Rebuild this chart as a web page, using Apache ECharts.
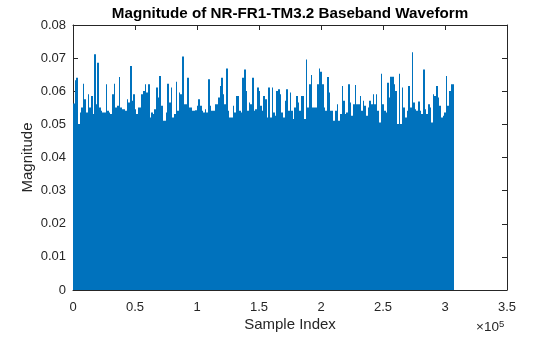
<!DOCTYPE html>
<html>
<head>
<meta charset="utf-8">
<script src="https://cdn.jsdelivr.net/npm/echarts@6/dist/echarts.min.js"></script>
<style>
  html, body { margin: 0; padding: 0; background: #fff; }
  #chart { width: 560px; height: 337px; }
</style>
</head>
<body>
<div id="chart"></div>
<script>
// Baseband waveform magnitude, summarised as the peak reached in each display column
const totalSamples = 307200;

const peakMagnitude = [
  0.0563, 0.0633, 0.0641, 0.0501, 0.0536, 0.0551, 0.0623, 0.0576, 0.0536, 0.0591,
  0.0551, 0.0586, 0.0531, 0.0712, 0.0561, 0.0686, 0.0551, 0.0541, 0.0536, 0.0536,
  0.0621, 0.0541, 0.0536, 0.0531, 0.0591, 0.0623, 0.0551, 0.0556, 0.0643, 0.0551,
  0.0546, 0.0546, 0.0541, 0.0576, 0.0566, 0.0676, 0.0571, 0.0591, 0.0546, 0.0531,
  0.0551,
  0.0551, 0.0591, 0.0601, 0.0621, 0.0596, 0.0621, 0.0521, 0.0536, 0.0531, 0.0546,
  0.0611, 0.0581, 0.0646, 0.0556, 0.0511, 0.0511, 0.0536, 0.0623, 0.0566, 0.0611,
  0.0521, 0.0531, 0.0629, 0.0541, 0.0596, 0.0591, 0.0705, 0.0561, 0.0561, 0.0641,
  0.0551, 0.0551, 0.0541, 0.0541, 0.0543, 0.0556, 0.0576, 0.0556, 0.0541, 0.0536,
  0.0546, 0.0536, 0.0636, 0.0556, 0.0541, 0.0541, 0.0561, 0.0561, 0.0581, 0.0616,
  0.0641, 0.0591, 0.0561, 0.0669, 0.0541, 0.0521, 0.0521, 0.0556, 0.0536, 0.0586,
  0.0586, 0.0541, 0.0536, 0.0641, 0.0666, 0.0601, 0.0541, 0.0566, 0.0561, 0.0641,
  0.0541, 0.0546, 0.0611, 0.0601, 0.0556, 0.0541, 0.0586, 0.0576, 0.0521, 0.0611,
  0.0521, 0.0611, 0.0536, 0.0526, 0.0601, 0.0606, 0.0591, 0.0536, 0.0521, 0.0571,
  0.0606, 0.0541, 0.0596, 0.0541, 0.0516, 0.0551, 0.0586, 0.0566, 0.0541, 0.0586,
  0.0586, 0.0516, 0.0696, 0.0551, 0.0621, 0.0649, 0.0551, 0.0551, 0.0551, 0.0621,
  0.0669, 0.0659, 0.0621, 0.0551, 0.0541, 0.0643, 0.0596, 0.0541, 0.0541, 0.0511,
  0.0541, 0.0561, 0.0511, 0.0531, 0.0616, 0.0571, 0.0531, 0.0536, 0.0621, 0.0566,
  0.0526, 0.0561, 0.0619, 0.0561, 0.0561, 0.0586, 0.0541, 0.0571, 0.0556, 0.0526,
  0.0551, 0.0571, 0.0561, 0.0591, 0.0561, 0.0591, 0.0541, 0.0506, 0.0653, 0.0561,
  0.0541, 0.0536, 0.0626, 0.0581, 0.0644, 0.0644, 0.0621, 0.0601, 0.0501, 0.0653,
  0.0501, 0.0611, 0.0551, 0.0521, 0.0541, 0.0616, 0.0551, 0.0718, 0.0566, 0.0546,
  0.0541, 0.0569, 0.0541, 0.0531, 0.0666, 0.0546, 0.0531, 0.0561, 0.0551, 0.0506,
  0.0591, 0.0586, 0.0616, 0.0581, 0.0556, 0.0521, 0.0526, 0.0536, 0.0646, 0.0556,
  0.0601, 0.0621, 0.0621
];

const xTickValues = [0, 50000, 100000, 150000, 200000, 250000, 300000, 350000];
const yTickValues = [0, 0.01, 0.02, 0.03, 0.04, 0.05, 0.06, 0.07, 0.08];

// Each entry covers an equal slice of the sample range: [start, end, peak]
const step = totalSamples / peakMagnitude.length;
const columns = peakMagnitude.map((v, i) => [i * step, (i + 1) * step, v]);

const axisColor = '#262626';
const lineColor = '#0072BD';
const font = 'Liberation Sans, Arial, Helvetica, sans-serif';

const chart = echarts.init(document.getElementById('chart'), null, { renderer: 'canvas' });

const baseAxis = {
  axisLine: { show: true, onZero: false, lineStyle: { color: axisColor, width: 1 } },
  axisTick: { show: true, inside: true, length: 5, lineStyle: { color: axisColor, width: 1 } },
  splitLine: { show: false }
};

// Fill a column from zero up to its peak, snapped to whole pixels so neighbours tile
function renderColumn(params, api) {
  const a = api.coord([api.value(0), api.value(2)]);
  const b = api.coord([api.value(1), 0]);
  const x0 = Math.round(a[0]);
  const x1 = Math.max(Math.round(b[0]), x0 + 1);
  return {
    type: 'rect',
    shape: { x: x0, y: a[1], width: x1 - x0, height: b[1] - a[1] },
    style: { fill: lineColor }
  };
}

chart.setOption({
  animation: false,
  backgroundColor: '#ffffff',
  grid: { left: 73, top: 25, width: 434, height: 268, containLabel: false },
  xAxis: [
    Object.assign({}, baseAxis, {
      type: 'value', position: 'bottom',
      min: xTickValues[0], max: xTickValues[xTickValues.length - 1], interval: 50000,
      name: 'Sample Index', nameLocation: 'middle', nameGap: 27, nameMoveOverlap: false,
      nameTextStyle: { color: axisColor, fontSize: 15, fontFamily: font },
      axisLabel: {
        color: axisColor, fontSize: 13, fontFamily: font, margin: 11,
        formatter: v => String(v / 100000)
      }
    }),
    Object.assign({}, baseAxis, {
      type: 'value', position: 'top',
      min: xTickValues[0], max: xTickValues[xTickValues.length - 1], interval: 50000,
      axisLabel: { show: false }
    })
  ],
  yAxis: [
    Object.assign({}, baseAxis, {
      type: 'value', position: 'left',
      min: yTickValues[0], max: yTickValues[yTickValues.length - 1], interval: 0.01,
      name: 'Magnitude', nameLocation: 'middle', nameGap: 38, nameRotate: 90, nameMoveOverlap: false,
      nameTextStyle: { color: axisColor, fontSize: 15, fontFamily: font },
      axisLabel: {
        color: axisColor, fontSize: 13, fontFamily: font, margin: 7,
        formatter: v => (v === 0 ? '0' : v.toFixed(2))
      }
    }),
    Object.assign({}, baseAxis, {
      type: 'value', position: 'right',
      min: yTickValues[0], max: yTickValues[yTickValues.length - 1], interval: 0.01,
      axisLabel: { show: false }
    })
  ],
  graphic: [
    {
      type: 'text', x: 290, y: 14,
      style: {
        text: 'Magnitude of NR-FR1-TM3.2 Baseband Waveform',
        font: 'bold 15.2px ' + font, fill: '#000000',
        align: 'center', verticalAlign: 'middle'
      }
    },
    {
      type: 'text', x: 476, y: 319,
      style: {
        text: '×10{sup|5}',
        font: '13.5px ' + font, fill: axisColor,
        rich: { sup: { fontSize: 9.5, fontFamily: font, verticalAlign: 'top', padding: [0, 0, 7, 0], fill: axisColor } }
      }
    }
  ],
  series: [{
    type: 'custom',
    xAxisIndex: 0, yAxisIndex: 0,
    data: columns,
    encode: { x: [0, 1], y: 2 },
    renderItem: renderColumn,
    clip: true,
    z: 1
  }]
});
</script>
</body>
</html>
